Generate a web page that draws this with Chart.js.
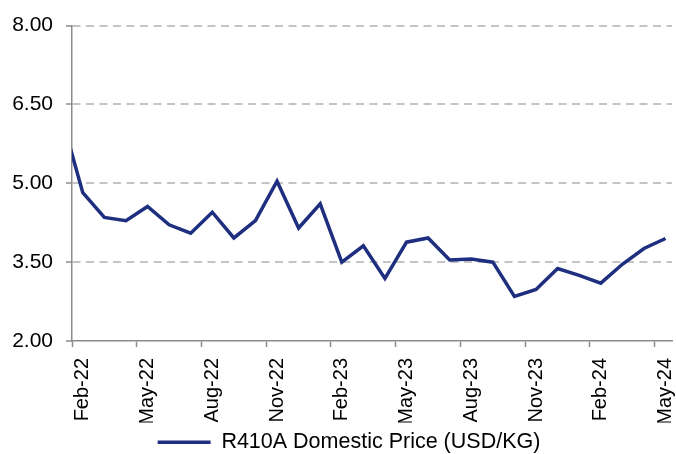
<!DOCTYPE html>
<html>
<head>
<meta charset="utf-8">
<script src="https://cdn.jsdelivr.net/npm/chart.js@4.4.1/dist/chart.umd.min.js"></script>
<style>
  html, body { margin: 0; padding: 0; background: #fff; }
  #wrap { width: 676px; height: 454px; }
</style>
</head>
<body>
<div id="wrap"><canvas id="price-chart" width="676" height="454"></canvas></div>
<script>
// monthly prices, points sit mid-month (Jan-22 is cut off by the axis start)
const months = [
  'Jan-22', 'Feb-22', 'Mar-22', 'Apr-22', 'May-22', 'Jun-22', 'Jul-22', 'Aug-22', 'Sep-22', 'Oct-22', 'Nov-22', 'Dec-22',
  'Jan-23', 'Feb-23', 'Mar-23', 'Apr-23', 'May-23', 'Jun-23', 'Jul-23', 'Aug-23', 'Sep-23', 'Oct-23', 'Nov-23', 'Dec-23',
  'Jan-24', 'Feb-24', 'Mar-24', 'Apr-24', 'May-24'
];
const prices = [
  6.29, 4.82, 4.35, 4.29, 4.56, 4.21, 4.05, 4.45, 3.96, 4.29, 5.04, 4.15,
  4.61, 3.50, 3.81, 3.19, 3.88, 3.96, 3.54, 3.56, 3.50, 2.85, 2.98, 3.38,
  3.25, 3.10, 3.46, 3.76, 3.95
];
const xTickLabels = ['Feb-22', 'May-22', 'Aug-22', 'Nov-22', 'Feb-23', 'May-23', 'Aug-23', 'Nov-23', 'Feb-24', 'May-24'];
const seriesName = 'R410A Domestic Price (USD/KG)';

const axisGrey = '#8c8c8c';
const navy = '#1f2f80';

// month index relative to Feb-22 start
const monthPos = (label) => months.indexOf(label) - 1;

const points = prices.map((p, i) => ({ x: monthPos(months[i]) + 0.5, y: p }));

// nudge the legend to where the original sits
const legendShift = {
  id: 'legendShift',
  afterLayout(chart) {
    const lg = chart.legend;
    lg.left += 13; lg.right += 13;
    lg.top += 9; lg.bottom += 9;
  }
};

Chart.defaults.font.family = '"Liberation Sans", Arial, sans-serif';
Chart.defaults.color = '#000';

new Chart(document.getElementById('price-chart'), {
  type: 'line',
  data: {
    datasets: [{
      label: seriesName,
      data: points,
      borderColor: navy,
      backgroundColor: navy,
      borderWidth: 3.5,
      pointRadius: 0,
      tension: 0,
      clip: 0,
    }]
  },
  options: {
    responsive: false,
    animation: false,
    layout: { padding: { top: 22, right: 4, left: 0, bottom: 0 } },
    plugins: {
      tooltip: { enabled: false },
      legend: {
        display: true,
        position: 'bottom',
        labels: {
          usePointStyle: true,
          pointStyle: 'line',
          pointStyleWidth: 53,
          padding: 0,
          font: { size: 21.5 },
          color: '#000',
        }
      }
    },
    scales: {
      x: {
        type: 'linear',
        min: 0,
        max: 27.8,
        afterBuildTicks: (scale) => {
          scale.ticks = xTickLabels.map(l => ({ value: monthPos(l) }));
        },
        afterFit: (scale) => {
          scale.height = 81.5;
          // rotated labels shouldn't squeeze the plot sideways
          scale.paddingLeft = 0;
          scale.paddingRight = 0;
        },
        grid: {
          drawOnChartArea: false,
          drawTicks: true,
          tickLength: 6,
          tickColor: axisGrey,
          tickWidth: 1.5,
        },
        border: { color: axisGrey, width: 1.5 },
        ticks: {
          minRotation: 90,
          maxRotation: 90,
          autoSkip: false,
          padding: 11,
          labelOffset: 10.8,
          font: { size: 20 },
          callback: (v) => months[v + 1],
        }
      },
      y: {
        min: 2,
        max: 8,
        afterFit: (scale) => { scale.width = 72; },
        grid: {
          color: (ctx) => ctx.index === 0 ? 'rgba(0,0,0,0)' : '#c4c4c4',
          lineWidth: 2,
          tickLength: 6,
          tickColor: axisGrey,
          tickWidth: 1.5,
          tickBorderDash: [],
        },
        border: { color: axisGrey, width: 1.5, dash: [8, 5.5] },
        ticks: {
          stepSize: 1.5,
          padding: 13,
          font: { size: 21 },
          callback: (v) => v.toFixed(2),
        }
      }
    }
  },
  plugins: [legendShift]
});
</script>
</body>
</html>
